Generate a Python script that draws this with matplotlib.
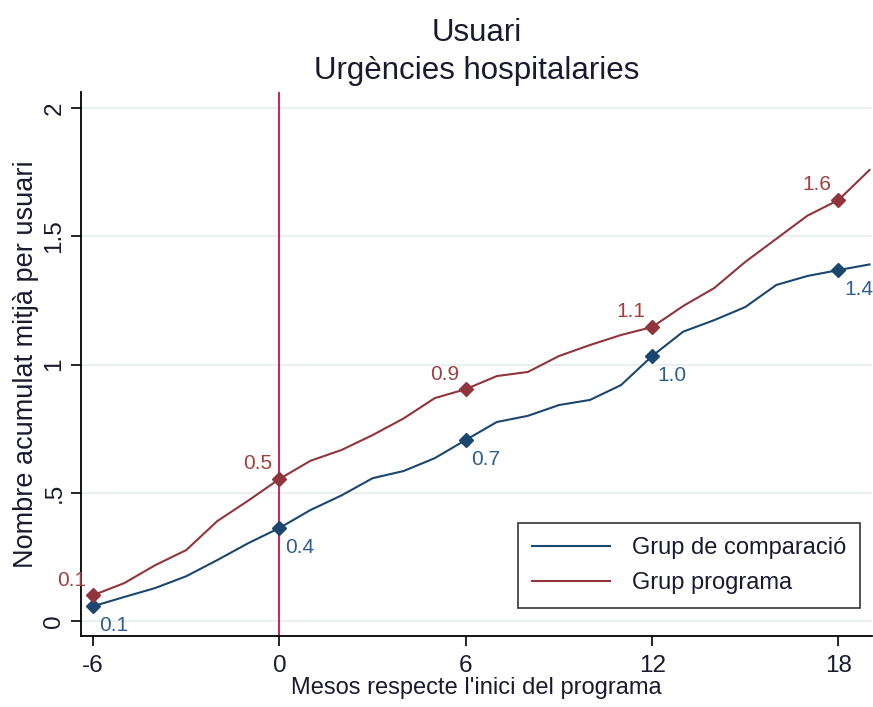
import matplotlib

matplotlib.use("Agg")

import matplotlib.pyplot as plt

plt.rcParams["font.family"] = ["Liberation Sans", "DejaVu Sans"]

_BLUE = "#1a476f"
_RED = "#90353b"
_VLINE = "#d0103a"
_GRID = "#e6eef0"
_TEXT = "#1a1a2e"

months = list(range(-6, 20))
comparacio = [0.058, 0.094, 0.129, 0.175, 0.238, 0.304, 0.363, 0.433, 0.49, 0.557,
              0.585, 0.635, 0.706, 0.776, 0.80, 0.842, 0.862, 0.92, 1.033, 1.128,
              1.173, 1.224, 1.31, 1.345, 1.368, 1.39]
programa = [0.101, 0.148, 0.218, 0.277, 0.39, 0.47, 0.554, 0.625, 0.667, 0.725,
            0.79, 0.869, 0.904, 0.955, 0.971, 1.033, 1.076, 1.115, 1.146, 1.228,
            1.298, 1.40, 1.49, 1.58, 1.641, 1.758]

marker_months = [-6, 0, 6, 12, 18]
comparacio_labels = ["0.1", "0.4", "0.7", "1.0", "1.4"]
programa_labels = ["0.1", "0.5", "0.9", "1.1", "1.6"]

x_ticks = [-6, 0, 6, 12, 18]
y_ticks = [0, 0.5, 1, 1.5, 2]
y_ticklabels = ["0", ".5", "1", "1.5", "2"]

fig = plt.figure(figsize=(8.73, 7.07), dpi=100)
ax = fig.add_axes([80.7 / 873, 1 - 636 / 707, (872 - 80.7) / 873, (636 - 92) / 707])

ax.set_xlim(-6.40, 19.08)
ax.set_ylim(-0.058, 2.062)

for y in y_ticks:
    ax.axhline(y, color=_GRID, linewidth=1.2, zorder=0)

ax.axvline(0, color=_VLINE, linewidth=1.3, zorder=1)

ax.plot(months, comparacio, color=_BLUE, linewidth=1.5, label="Grup de comparació", zorder=3)
ax.plot(months, programa, color=_RED, linewidth=1.5, label="Grup programa", zorder=3)

idx = [months.index(m) for m in marker_months]
ax.plot(marker_months, [comparacio[i] for i in idx], "D", color=_BLUE, markersize=7, zorder=4)
ax.plot(marker_months, [programa[i] for i in idx], "D", color=_RED, markersize=7, zorder=4)

for m, i, lab in zip(marker_months, idx, comparacio_labels):
    t = ax.annotate(lab, xy=(m, comparacio[i]), xytext=(4, -7), textcoords="offset points",
                    ha="left", va="top", fontsize=15, color="#2f5f8a", zorder=5)
    t.set_clip_on(True)
for m, i, lab in zip(marker_months, idx, programa_labels):
    ax.annotate(lab, xy=(m, programa[i]), xytext=(-5, 4), textcoords="offset points",
                ha="right", va="bottom", fontsize=15, color="#a0403f", zorder=5,
                annotation_clip=False)

ax.set_xticks(x_ticks)
ax.set_xticklabels([str(t) for t in x_ticks], fontsize=17.5, color=_TEXT)
ax.set_yticks(y_ticks)
ax.set_yticklabels(y_ticklabels, fontsize=17.5, rotation=90, va="center", color=_TEXT)
ax.tick_params(axis="both", direction="out", length=7, width=1.2, color="black")
ax.tick_params(axis="x", pad=7)
ax.tick_params(axis="y", pad=4)

for side in ("top", "right"):
    ax.spines[side].set_visible(False)
for side in ("left", "bottom"):
    ax.spines[side].set_linewidth(1.3)
    ax.spines[side].set_color("black")

ax.set_xlabel("Mesos respecte l'inici del programa", fontsize=17, labelpad=0, color=_TEXT)
ax.set_ylabel("Nombre acumulat mitjà per usuari", fontsize=19.5, labelpad=3, color=_TEXT)
ax.set_title("Usuari\nUrgències hospitalaries", fontsize=22.5, linespacing=1.35, pad=9,
             color=_TEXT)

leg = ax.legend(loc="lower right", bbox_to_anchor=(1 - 12 / 791, 28 / 544), fontsize=17,
                frameon=True, fancybox=False, handlelength=3.3, handletextpad=0.9,
                borderpad=0.6, labelspacing=0.55, borderaxespad=0)
leg.get_frame().set_edgecolor("black")
leg.get_frame().set_linewidth(1.2)
for txt in leg.get_texts():
    txt.set_color(_TEXT)

fig.savefig("out.png", dpi=100, facecolor="white")
plt.close(fig)
